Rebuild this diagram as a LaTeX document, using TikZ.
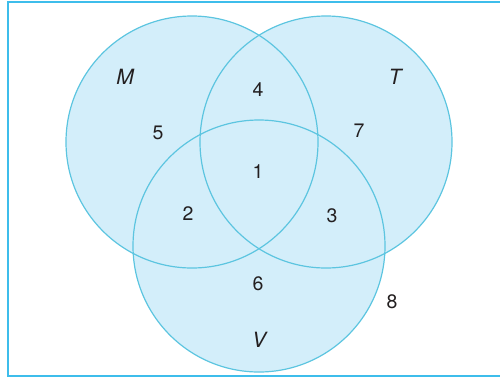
\documentclass[tikz,border=0pt]{standalone}
\usepackage{fontspec}
\setmainfont{TeX Gyre Heros}
\definecolor{VennFill}{HTML}{D3EEFA}
\definecolor{VennLine}{HTML}{5CC5E0}
\definecolor{VennFrame}{HTML}{3EBDEB}
\definecolor{VennText}{HTML}{231F20}
\begin{document}
\begin{tikzpicture}[x=1pt,y=-1pt]
  \tikzstyle{setname}=[font=\fontsize{21}{24}\selectfont\itshape,text=VennText,inner sep=0pt]
  \tikzstyle{tally}=[font=\fontsize{19.5}{22}\selectfont,text=VennText,inner sep=0pt]
  \useasboundingbox (0,0) rectangle (500,378);
  \clip (0,0) rectangle (500,378);
  % universal set frame (right side runs off the page)
  \draw[VennFrame,line width=2pt] (8,2) rectangle (520,376);
  % the three sets
  \coordinate (cM) at (192,142);
  \coordinate (cT) at (326,142);
  \coordinate (cV) at (259,246);
  \foreach \c in {cM,cT,cV} \fill[VennFill] (\c) circle (126);
  \foreach \c in {cM,cT,cV} \draw[VennLine,line width=1.2pt] (\c) circle (126);
  % set names
  \node[setname] (nameM) at (125,77) {M};
  \node[setname] (nameT) at (395,77) {T};
  \node[setname] (nameV) at (259,340) {V};
  % region counts
  \node[tally] (r1) at (258,172) {1};
  \node[tally] (r2) at (188,214) {2};
  \node[tally] (r3) at (332,216) {3};
  \node[tally] (r4) at (258,90) {4};
  \node[tally] (r5) at (158,133) {5};
  \node[tally] (r6) at (258,284) {6};
  \node[tally] (r7) at (359,131) {7};
  \node[tally] (r8) at (392,302) {8};
\end{tikzpicture}
\end{document}
